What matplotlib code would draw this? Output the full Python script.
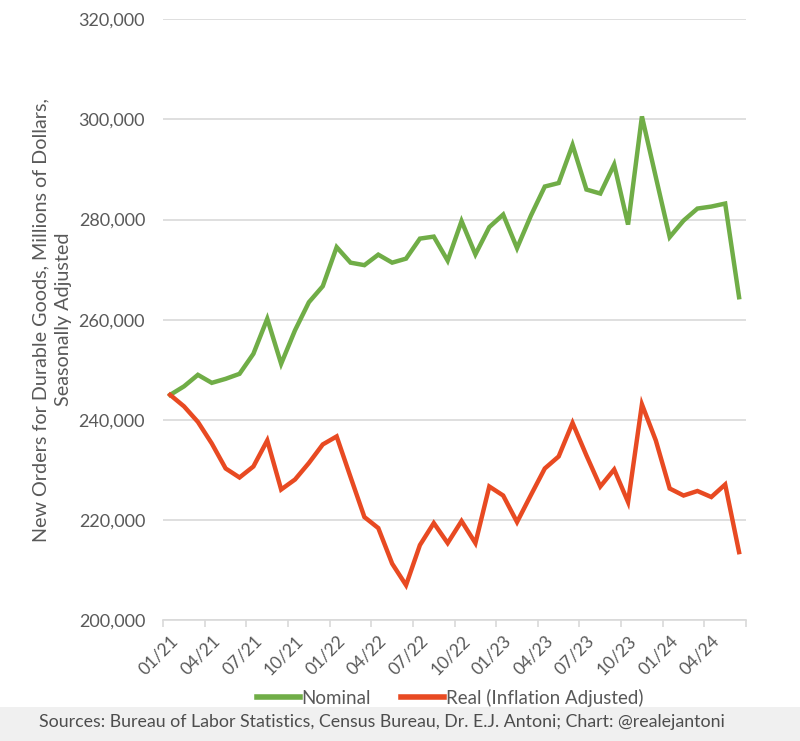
import numpy as np
import matplotlib
matplotlib.use("Agg")
import matplotlib.pyplot as plt
from matplotlib.lines import Line2D
from matplotlib.ticker import FuncFormatter

plt.rcParams['font.family'] = ['Lato', 'DejaVu Sans']

# monthly, 01/21 .. 06/24
months = ["%02d/%02d" % (m, y) for y in range(21, 25) for m in range(1, 13)][:42]

nominal = [245000, 246700, 249000, 247400, 248200, 249200, 253200, 260200, 251200, 257900,
           263500, 266700, 274500, 271400, 270900, 273000, 271400, 272200, 276200, 276600,
           271800, 279700, 273050, 278500, 281000, 274300, 280800, 286600, 287300, 294900,
           286000, 285200, 291000, 279000, 300600, 288500, 276500, 279800, 282200, 282600,
           283200, 264500]
real = [245000, 242700, 239600, 235300, 230300, 228500, 230700, 235900, 226100, 228100,
        231400, 235100, 236700, 228600, 220600, 218400, 211300, 207000, 215000, 219400,
        215400, 219800, 215400, 226700, 224900, 219600, 225000, 230300, 232700, 239400,
        232900, 226700, 230100, 223600, 243100, 235900, 226300, 224900, 225800, 224600,
        227100, 213600]

green = "#70ad47"
red = "#e84a22"
grey_txt = "#595959"

fig = plt.figure(figsize=(8, 7.41), dpi=100)
fig.patches.append(plt.Rectangle((0, 0), 1, 0.046, transform=fig.transFigure,
                                 facecolor="#f0f0f0", edgecolor="none", zorder=-1))
ax = fig.add_axes([0.204, 0.163, 0.7285, 0.811])

x = np.arange(len(months))
ax.plot(x, nominal, color=green, lw=3.2, solid_joinstyle='miter', zorder=3)
ax.plot(x, real, color=red, lw=3.2, solid_joinstyle='miter', zorder=3)

ax.set_xlim(-0.5, len(months) - 0.5)
ax.set_ylim(200000, 320000)
ax.set_yticks(np.arange(200000, 320001, 20000))
ax.yaxis.set_major_formatter(FuncFormatter(lambda v, p: "{:,.0f}".format(v)))
ax.grid(axis='y', color="#d9d9d9", lw=1.2)
ax.set_axisbelow(True)

ax.set_xticks(x[::3])
ax.set_xticklabels(months[::3], rotation=45, ha='right', rotation_mode='anchor')
ax.set_xticks(np.arange(-0.5, len(months), 3), minor=True)
ax.tick_params(axis='x', which='major', length=0, pad=9, labelsize=12.5, colors=grey_txt)
ax.tick_params(axis='x', which='minor', length=5, color="#d9d9d9", width=1.2)
ax.tick_params(axis='y', length=0, pad=13, labelsize=13, colors=grey_txt)

for s in ['top', 'right', 'left']:
    ax.spines[s].set_visible(False)
ax.spines['bottom'].set_color("#d9d9d9")
ax.spines['bottom'].set_linewidth(1.2)

ax.set_ylabel("New Orders for Durable Goods, Millions of Dollars,\nSeasonally Adjusted",
              fontsize=14.2, color=grey_txt, labelpad=5, linespacing=1.35)

handles = [Line2D([0], [0], color=green, lw=4, label="Nominal"),
           Line2D([0], [0], color=red, lw=4, label="Real (Inflation Adjusted)")]
fig.legend(handles=handles, loc='center', bbox_to_anchor=(0.5625, 0.058), ncol=2,
           frameon=False, fontsize=13.5, handlelength=2.3, handletextpad=0.1,
           columnspacing=1.6, labelcolor=grey_txt)

fig.text(0.477, 0.025, "Sources: Bureau of Labor Statistics, Census Bureau, Dr. E.J. Antoni; Chart: @realejantoni",
         ha='center', va='center', fontsize=12.8, color="#4d4d4d")

fig.savefig("out.png", dpi=100)
